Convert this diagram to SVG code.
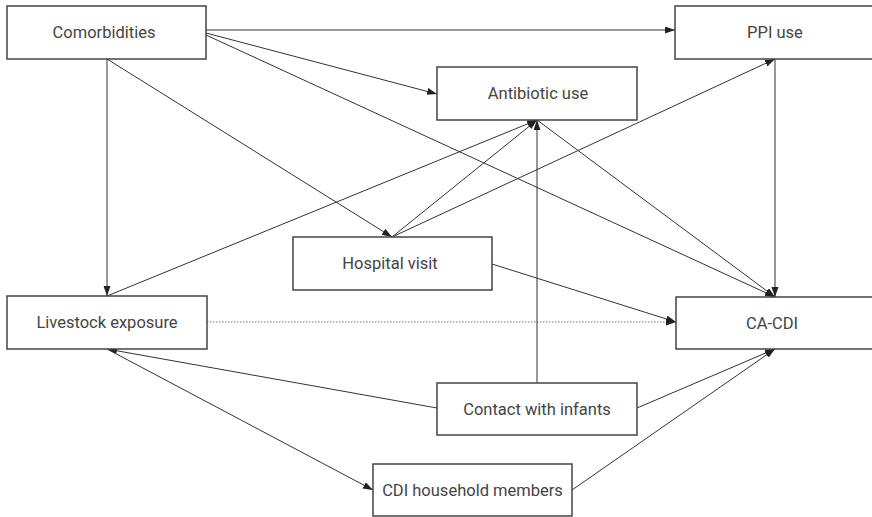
<svg xmlns="http://www.w3.org/2000/svg" width="872" height="517" viewBox="0 0 872 517">
<defs>
<marker id="ah" markerUnits="userSpaceOnUse" markerWidth="11" markerHeight="8" refX="10" refY="3.5" orient="auto">
<path d="M0,0 L10,3.5 L0,7 z" fill="#222"/>
</marker>
<style>
.box{fill:#fff;stroke:#444;stroke-width:1.5}
.lbl{font-family:Roboto,"Liberation Sans",sans-serif;font-size:16.5px;fill:#444;text-anchor:middle;dominant-baseline:central}
.e{stroke:#333;stroke-width:1;fill:none;marker-end:url(#ah)}
.dot{stroke-dasharray:1.5 1.5;stroke:#777}
</style>
</defs>
<rect width="872" height="517" fill="#fff"/>
<g id="connectors">
<line class="e" x1="206" y1="30" x2="675" y2="30"/>
<line class="e" x1="206" y1="33" x2="437" y2="94"/>
<line class="e" x1="206" y1="35" x2="775" y2="297"/>
<line class="e" x1="107" y1="59" x2="107" y2="296"/>
<line class="e" x1="107" y1="59" x2="392" y2="237"/>
<line class="e" x1="107" y1="296" x2="537" y2="120"/>
<line class="e" x1="392" y1="237" x2="537" y2="120"/>
<line class="e" x1="392" y1="237" x2="775" y2="59"/>
<line class="e" x1="537" y1="120" x2="775" y2="297"/>
<line class="e" x1="775" y1="59" x2="775" y2="297"/>
<line class="e" x1="492" y1="264" x2="676" y2="322"/>
<line class="e dot" x1="207" y1="322" x2="676" y2="322"/>
<line class="e" x1="537" y1="383" x2="537" y2="120"/>
<line class="e" x1="437" y1="408" x2="107" y2="349"/>
<line class="e" x1="637" y1="408" x2="775" y2="349"/>
<line class="e" x1="107" y1="349" x2="373" y2="490"/>
<line class="e" x1="572" y1="490" x2="775" y2="349"/>
</g>
<g id="comorbidities"><rect class="box" x="7" y="6" width="199" height="53"/><text class="lbl" x="104" y="32.5">Comorbidities</text></g>
<g id="ppi"><rect class="box" x="675" y="6" width="200" height="53"/><text class="lbl" x="775" y="32.5">PPI use</text></g>
<g id="antibiotic"><rect class="box" x="437" y="67" width="200" height="53"/><text class="lbl" x="538" y="93.5">Antibiotic use</text></g>
<g id="hospital"><rect class="box" x="293" y="237" width="199" height="53"/><text class="lbl" x="390" y="263.5">Hospital visit</text></g>
<g id="livestock"><rect class="box" x="7" y="296" width="200" height="53"/><text class="lbl" x="107" y="322.5">Livestock exposure</text></g>
<g id="cacdi"><rect class="box" x="676" y="297" width="200" height="52"/><text class="lbl" x="772" y="323">CA-CDI</text></g>
<g id="contact"><rect class="box" x="437" y="383" width="200" height="52"/><text class="lbl" x="537" y="409">Contact with infants</text></g>
<g id="household"><rect class="box" x="373" y="464" width="199" height="52"/><text class="lbl" x="472.5" y="490">CDI household members</text></g>
</svg>
